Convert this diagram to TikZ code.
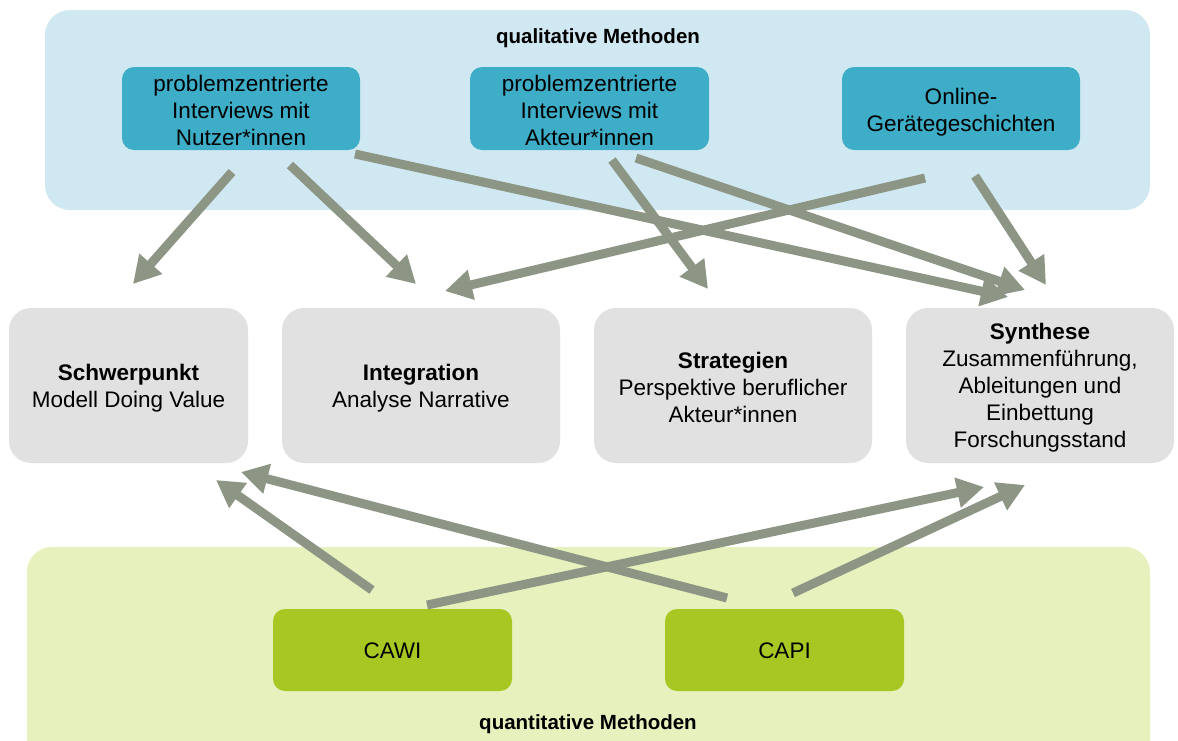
\documentclass[tikz,border=0pt]{standalone}
\usepackage{fontspec}
\setmainfont{Liberation Sans}
\usetikzlibrary{arrows.meta}
\definecolor{bluebg}{HTML}{D0E8F2}
\definecolor{bluebox}{HTML}{3DADC8}
\definecolor{greybox}{HTML}{E1E1E1}
\definecolor{greenbg}{HTML}{E6F1BD}
\definecolor{greenbox}{HTML}{A7C823}
\definecolor{arrowcol}{HTML}{8D9684}
\tikzset{
  bodytext/.style={font=\fontsize{22.5}{27}\selectfont, align=center, inner sep=0pt},
  topbox/.style={fill=bluebox, rounded corners=12pt, minimum width=238pt, minimum height=83pt, inner sep=0pt},
  midbox/.style={fill=greybox, rounded corners=22pt, minimum height=155pt, inner sep=0pt},
  botbox/.style={fill=greenbox, rounded corners=12pt, minimum width=239pt, minimum height=82pt, inner sep=0pt},
  grouptitle/.style={font=\fontsize{20.5}{25}\selectfont\bfseries, inner sep=0pt},
  flow/.style={draw=arrowcol, line width=9pt, -{Triangle[length=27pt,width=29pt]}}
}
\begin{document}
\begin{tikzpicture}[x=1pt,y=-1pt]
\useasboundingbox (0,0) rectangle (1178,740);
\clip (0,0) rectangle (1178,740);
% backgrounds
\fill[bluebg, rounded corners=25pt] (45,10) rectangle (1150,210);
\fill[greenbg, rounded corners=25pt] (27,547) rectangle (1150,780);
\node[grouptitle] (qual) at (598,38) {qualitative Methoden};
\node[grouptitle] (quant) at (588,724) {quantitative Methoden};
% top boxes
\node[topbox] (nutzer) at (241,108.5) {};
\node[bodytext] (nutzerT) at ([yshift=-1.5pt]nutzer.center) {problemzentrierte\\Interviews mit\\Nutzer*innen};
\node[topbox, minimum width=239pt] (akteur) at (589.5,108.5) {};
\node[bodytext] (akteurT) at ([yshift=-1.5pt]akteur.center) {problemzentrierte\\Interviews mit\\Akteur*innen};
\node[topbox] (online) at (961,108.5) {};
\node[bodytext] (onlineT) at ([yshift=-3.5pt]online.center) {Online-\\Gerätegeschichten};
% middle boxes
\node[midbox, minimum width=239pt] (schwer) at (128.5,385.5) {};
\node[bodytext] (schwerT) at ([yshift=-3pt]schwer.center) {\textbf{Schwerpunkt}\\Modell Doing Value};
\node[midbox, minimum width=278pt] (integ) at (421,385.5) {};
\node[bodytext] (integT) at ([yshift=-3pt]integ.center) {\textbf{Integration}\\Analyse Narrative};
\node[midbox, minimum width=278pt] (strat) at (733,385.5) {};
\node[bodytext] (stratT) at ([yshift=-2pt]strat.center) {\textbf{Strategien}\\Perspektive beruflicher\\Akteur*innen};
\node[midbox, minimum width=268pt] (synth) at (1040,385.5) {};
\node[bodytext] (synthT) at ([yshift=-2pt]synth.center) {\textbf{Synthese}\\Zusammenführung,\\Ableitungen und\\Einbettung\\Forschungsstand};
% bottom boxes
\node[botbox] (cawi) at (392.5,650) {};
\node[bodytext] (cawiT) at ([yshift=-1pt]cawi.center) {CAWI};
\node[botbox] (capi) at (784.5,650) {};
\node[bodytext] (capiT) at ([yshift=-1pt]capi.center) {CAPI};
% arrow end points
\coordinate (n1) at (232,172);  \coordinate (t1) at (133,284);
\coordinate (n2) at (290,165);  \coordinate (t2) at (416,284);
\coordinate (n3) at (355,154);  \coordinate (t3) at (1008,297);
\coordinate (a1) at (612,160);  \coordinate (t4) at (708,289);
\coordinate (a2) at (636,158);  \coordinate (t5) at (1025,290);
\coordinate (o1) at (925,178);  \coordinate (t6) at (445,291);
\coordinate (o2) at (975,176);  \coordinate (t7) at (1046,285);
\coordinate (c1) at (372,590);  \coordinate (b1) at (216,480);
\coordinate (p1) at (727,598);  \coordinate (b2) at (241,472);
\coordinate (c2) at (427,605);  \coordinate (b3) at (984,487);
\coordinate (p2) at (793,593);  \coordinate (b4) at (1025,485);
% arrows
\draw[flow] (n1) -- (t1);
\draw[flow] (n2) -- (t2);
\draw[flow] (n3) -- (t3);
\draw[flow] (a1) -- (t4);
\draw[flow] (a2) -- (t5);
\draw[flow] (o1) -- (t6);
\draw[flow] (o2) -- (t7);
\draw[flow] (c1) -- (b1);
\draw[flow] (p1) -- (b2);
\draw[flow] (c2) -- (b3);
\draw[flow] (p2) -- (b4);
\end{tikzpicture}
\end{document}
